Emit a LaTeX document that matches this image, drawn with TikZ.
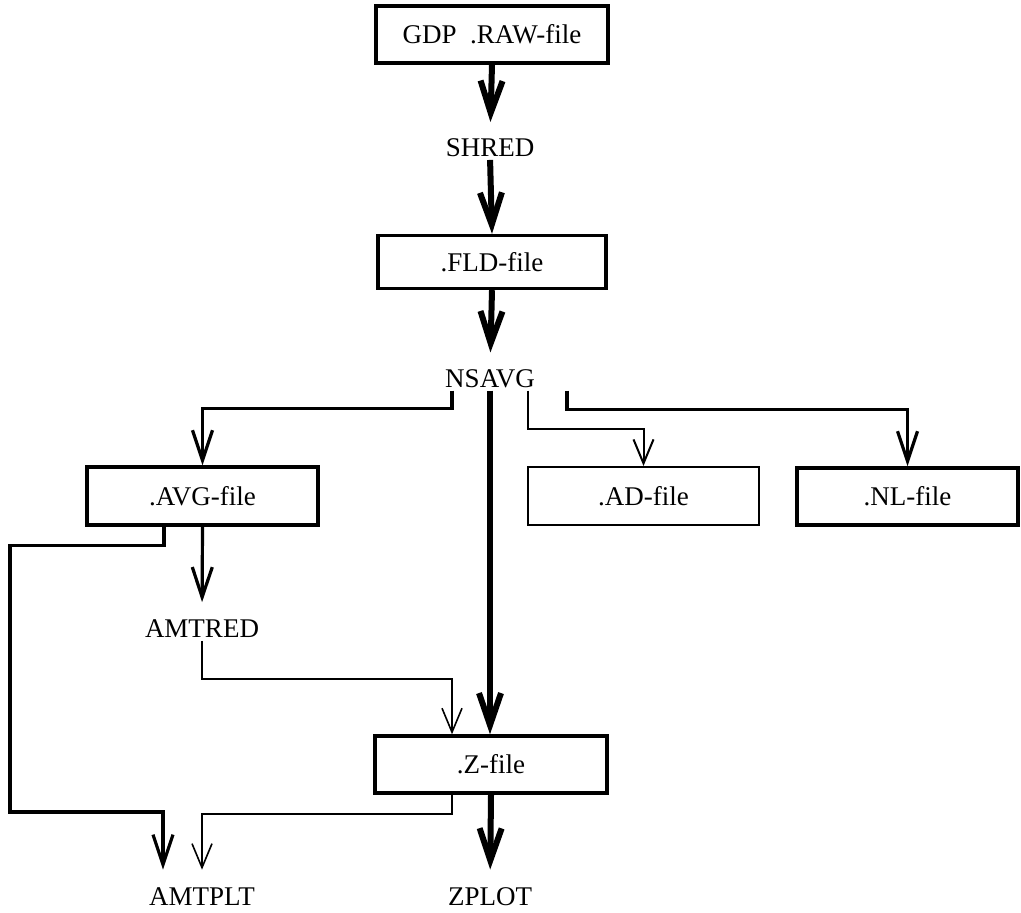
\documentclass[tikz,border=0pt]{standalone}
\usepackage{fontspec}
\setmainfont{Liberation Serif}
\usetikzlibrary{arrows.meta}

\begin{document}
\begin{tikzpicture}[x=0.5pt,y=-0.5pt,
    every node/.style={font=\fontsize{13.5}{16}\selectfont},
    filebox/.style={draw,line width=1.7pt,minimum width=116pt,minimum height=28.5pt,inner sep=0pt},
    lbl/.style={inner sep=0pt},
    heavy/.style={line width=3pt,-{Straight Barb[length=16pt,width=11pt]}},
    medium/.style={line width=1.6pt,-{Straight Barb[length=15pt,width=10pt]}},
    slim/.style={line width=0.8pt,-{Straight Barb[length=12pt,width=10pt]}}]
    \useasboundingbox (0,0) rectangle (1021,913);
    % Files and programs
    \node[filebox] (raw) at (492,34.5) {GDP\ \ .RAW-file};
    \node[lbl] (shred) at (490,147.5) {SHRED};
    \node[filebox,minimum width=114pt,minimum height=26.5pt] (fld) at (492,262) {.FLD-file};
    \node[lbl] (nsavg) at (490,379) {NSAVG};
    \node[filebox,minimum width=115.5pt,minimum height=29pt] (avg) at (202.5,496) {.AVG-file};
    \node[filebox,line width=1pt,minimum width=115.5pt,minimum height=29pt] (ad) at (643.5,496) {.AD-file};
    \node[filebox,minimum width=110.5pt] (nl) at (907.5,496.5) {.NL-file};
    \node[lbl] (amtred) at (202,628.5) {AMTRED};
    \node[filebox] (z) at (491,764.5) {.Z-file};
    \node[lbl] (amtplt) at (202,897) {AMTPLT};
    \node[lbl] (zplot) at (490,897) {ZPLOT};
    \coordinate (lft) at (10,812);
    % Main line
    \draw[heavy,shorten >=8pt] (raw.south) -- (shred.north);
    \draw[heavy,shorten <=1.5pt] (shred.south) -- (fld.north);
    \draw[heavy,shorten >=8.5pt] (fld.south) -- (nsavg.north);
    \draw[heavy] ([yshift=-1pt]nsavg.south) -- (nsavg.south |- z.north);
    \draw[heavy,shorten >=9pt] (z.south) -- (zplot.north);
    % Branches of NSAVG
    \draw[medium] ([xshift=-19pt,yshift=-1pt]nsavg.south) -- ++(0,18) -| (avg.north);
    \draw[slim,line width=1pt] ([xshift=19pt,yshift=-1pt]nsavg.south) -- ++(0,38) -| (ad.north);
    \draw[medium] ([xshift=38.5pt,yshift=-1pt]nsavg.south) -- ++(0,19) -| (nl.north);
    % AVG to AMTRED and AMTPLT
    \draw[medium,shorten >=8.5pt] (avg.south) -- (amtred.north);
    \draw[medium,shorten >=9pt] ([xshift=-19.25pt]avg.south) -- ++(0,19) -| (lft) -| ([xshift=-19.5pt]amtplt.north);
    % AMTRED to Z, Z to AMTPLT
    \draw[slim] ([yshift=-1.5pt]amtred.south) -- ++(0,38) -| ([xshift=-19.5pt]z.north);
    \draw[slim,shorten >=9pt] ([xshift=-19.5pt]z.south) -- ++(0,19) -| (amtplt.north);
\end{tikzpicture}
\end{document}
